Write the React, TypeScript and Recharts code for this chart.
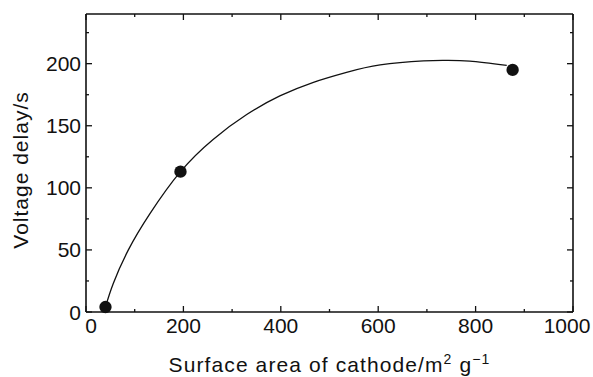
import { ComposedChart, Line, Scatter, XAxis, YAxis, ZAxis, Label } from 'recharts';

// measured points
const surfaceArea = [40, 194, 876];
const voltageDelay = [4, 113, 195];

// fitted curve
const fitArea = [40, 56, 87, 131, 194, 261, 330, 398, 467, 535, 604, 693, 740, 788, 864];
const fitDelay = [4, 23, 50, 79, 113, 139, 159, 174, 185, 193, 199, 202.2, 202.6, 202, 198.6];

const xTicks = [0, 100, 200, 300, 400, 500, 600, 700, 800, 900, 1000];
const xLabels = [0, 200, 400, 600, 800, 1000];
const yTicks = [0, 25, 50, 75, 100, 125, 150, 175, 200, 225];
const yLabels = [0, 50, 100, 150, 200];

const points = surfaceArea.map((x, i) => ({ x, y: voltageDelay[i] }));
const fit = fitArea.map((x, i) => ({ x, y: fitDelay[i] }));

const FONT = '"Liberation Sans", Arial, sans-serif';
const INK = '#111';
const GAP = 8;
const MAJOR = 6;
const MINOR = 3;

const BottomTick = (props: any) => {
  const { x, y, payload } = props;
  const v = payload.value;
  const axisY = y - GAP;
  const len = xLabels.includes(v) ? MAJOR : MINOR;
  let dx = 0;
  if (v === 0) dx = 5;
  if (v === 1000) dx = -6;
  return (
    <g>
      <line x1={x} x2={x} y1={axisY} y2={axisY - len} stroke={INK} strokeWidth={1.3} />
      {xLabels.includes(v) && (
        <text x={x + dx} y={axisY + 21} textAnchor="middle" fontSize={21} fontFamily={FONT} fill={INK}>
          {v}
        </text>
      )}
    </g>
  );
};

const TopTick = (props: any) => {
  const { x, y, payload } = props;
  const len = xLabels.includes(payload.value) ? MAJOR : MINOR;
  return <line x1={x} x2={x} y1={y} y2={y + len} stroke={INK} strokeWidth={1.3} />;
};

const LeftTick = (props: any) => {
  const { x, y, payload } = props;
  const v = payload.value;
  const axisX = x + GAP;
  const len = yLabels.includes(v) ? MAJOR : MINOR;
  return (
    <g>
      <line x1={axisX} x2={axisX + len} y1={y} y2={y} stroke={INK} strokeWidth={1.3} />
      {yLabels.includes(v) && (
        <text x={axisX - 5} y={y} dy="0.36em" textAnchor="end" fontSize={21} fontFamily={FONT} fill={INK}>
          {v}
        </text>
      )}
    </g>
  );
};

const RightTick = (props: any) => {
  const { x, y, payload } = props;
  const len = yLabels.includes(payload.value) ? MAJOR : MINOR;
  return <line x1={x} x2={x - len} y1={y} y2={y} stroke={INK} strokeWidth={1.3} />;
};

const XTitle = (props: any) => {
  const vb = props.viewBox || {};
  const cx = vb.x + vb.width / 2;
  return (
    <text x={cx} y={372} textAnchor="middle" fontSize={21} letterSpacing={1.1} fontFamily={FONT} fill={INK}>
      Surface area of cathode/m
      <tspan dy={-8} fontSize={14}>2</tspan>
      <tspan dy={8}> g</tspan>
      <tspan dy={-8} fontSize={14}>−1</tspan>
    </text>
  );
};

const YTitle = () => (
  <text
    x={0}
    y={0}
    transform="translate(28,170) rotate(-90)"
    textAnchor="middle"
    fontSize={21}
    letterSpacing={1}
    fontFamily={FONT}
    fill={INK}
  >
    Voltage delay/s
  </text>
);

const axisLine = { stroke: INK, strokeWidth: 1.6 };

export default function App() {
  return (
    <div style={{ position: 'absolute', left: 0, top: 0, background: '#fff' }}>
      <ComposedChart width={593} height={377} margin={{ top: 13, right: 19, bottom: 0, left: 0 }}>
        <ZAxis range={[120, 120]} />
        <XAxis
          dataKey="x"
          type="number"
          domain={[0, 1000]}
          ticks={xTicks}
          interval={0}
          height={65}
          tickSize={0}
          tickMargin={GAP}
          tickLine={false}
          axisLine={axisLine}
          tick={<BottomTick />}
        >
          <Label content={<XTitle />} />
        </XAxis>
        <XAxis
          xAxisId="top"
          dataKey="x"
          orientation="top"
          type="number"
          domain={[0, 1000]}
          ticks={xTicks}
          interval={0}
          height={1}
          tickSize={0}
          tickMargin={0}
          tickLine={false}
          axisLine={axisLine}
          tick={<TopTick />}
        />
        <YAxis
          dataKey="y"
          type="number"
          domain={[0, 240]}
          ticks={yTicks}
          interval={0}
          width={86}
          tickSize={0}
          tickMargin={GAP}
          tickLine={false}
          axisLine={axisLine}
          tick={<LeftTick />}
        >
          <Label content={<YTitle />} />
        </YAxis>
        <YAxis
          yAxisId="right"
          dataKey="y"
          orientation="right"
          type="number"
          domain={[0, 240]}
          ticks={yTicks}
          interval={0}
          width={1}
          tickSize={0}
          tickMargin={0}
          tickLine={false}
          axisLine={axisLine}
          tick={<RightTick />}
        />
        <Line
          data={fit}
          dataKey="y"
          type="natural"
          stroke={INK}
          strokeWidth={1.3}
          dot={false}
          activeDot={false}
          isAnimationActive={false}
        />
        <Scatter data={points} dataKey="y" fill={INK} shape="circle" isAnimationActive={false} />
        {/* invisible copy so the mirrored frame axes get drawn */}
        <Scatter
          data={points}
          dataKey="y"
          xAxisId="top"
          yAxisId="right"
          fill="none"
          fillOpacity={0}
          isAnimationActive={false}
        />
      </ComposedChart>
    </div>
  );
}
